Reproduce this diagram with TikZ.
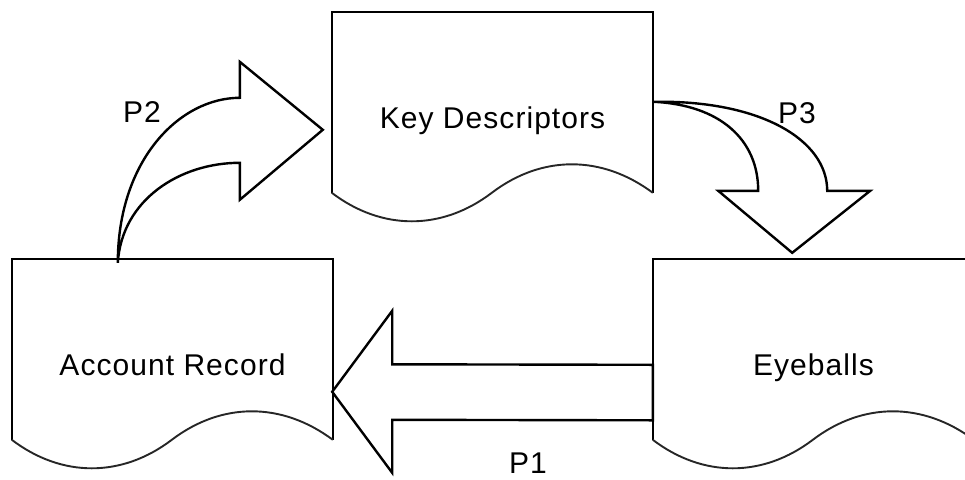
\documentclass[tikz,border=0pt]{standalone}
\usepackage{fontspec}
\setmainfont{Liberation Sans}[LetterSpace=3.5]
\usetikzlibrary{calc}

\tikzset{
  docbox/.style={shape=rectangle, inner sep=0pt, minimum width=321pt, minimum height=212pt,
                 text height=21.5pt, text depth=0pt,
                 font=\fontsize{30}{34}\selectfont},
  docline/.style={line width=2.4pt, line join=miter},
  waveline/.style={line width=1.9pt, draw=black!85},
  fatarrow/.style={line width=2.4pt, line join=miter},
  plabel/.style={font=\fontsize{30}{34}\selectfont, inner sep=0pt,
                 text height=21.5pt, text depth=0pt}
}

% outline of a document symbol: three straight sides and a wavy bottom edge
\newcommand\docoutline[1]{%
  \begin{scope}[shift={(#1.north west)}]
    \draw[docline] (0,181) -- (0,0) -- (321,0) -- (321,181);
    \draw[waveline] (0,181) .. controls (50,219) and (110,219) .. (160,181)
                            .. controls (210,143) and (270,143) .. (321,181);
  \end{scope}}

\begin{document}
\begin{tikzpicture}[x=1pt, y=-1pt]
  \useasboundingbox (0,0) rectangle (965,479);

  % documents
  \node[docbox] (kd) at (492.5,118) {Key Descriptors};
  \node[docbox] (ar) at (172.5,365) {Account Record};
  \node[docbox] (ey) at (813.5,365) {Eyeballs};
  \docoutline{kd}
  \docoutline{ar}
  \docoutline{ey}

  % anchor points of the block arrows
  \coordinate (p1root) at ($(ey.north west)+(0,133.5)$);
  \coordinate (p1tip)  at ($(ar.north east)+(-1,133)$);
  \coordinate (p2base) at ($(ar.north west)+(106,4)$);
  \coordinate (p3base) at ($(kd.north east)+(0,90)$);

  % P1: straight block arrow from Eyeballs to Account Record
  \draw[fatarrow]
    ($(p1root)+(0,-27.5)$) -- ($(p1tip)+(60,-27.5)$) -- ($(p1tip)+(60,-81)$)
    -- (p1tip) -- ($(p1tip)+(60,81)$) -- ($(p1tip)+(60,28)$)
    -- ($(p1root)+(0,28)$) -- cycle;

  % P2: curved block arrow from Account Record to Key Descriptors
  \begin{scope}[shift={(p2base)}]
    \draw[fatarrow]
      (0,0) .. controls (0,-103) and (62,-165) .. (122,-165)
      -- (122,-201) -- (205,-133) -- (122,-63) -- (122,-100)
      .. controls (62,-100) and (4,-63) .. (0,0) -- cycle;
  \end{scope}

  % P3: curved block arrow from Key Descriptors to Eyeballs
  \begin{scope}[shift={(p3base)}]
    \draw[fatarrow]
      (0,0) .. controls (107,-2) and (174,38) .. (174,89)
      -- (217,89) -- (139,151) -- (65,89) -- (105,89)
      .. controls (105,38) and (67,3) .. (0,0) -- cycle;
  \end{scope}

  % labels
  \node[plabel] (l1) at (528,463) {P1};
  \node[plabel] (l2) at (142,112) {P2};
  \node[plabel] (l3) at (797,113) {P3};
\end{tikzpicture}
\end{document}
